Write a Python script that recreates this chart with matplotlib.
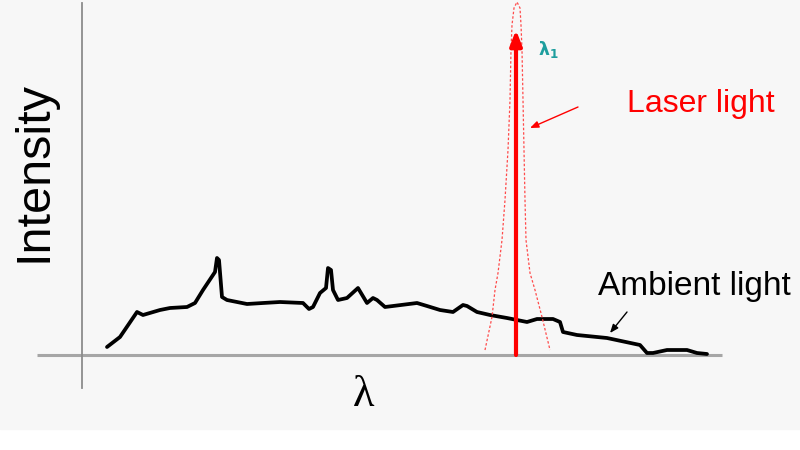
import matplotlib
matplotlib.use("Agg")
import matplotlib.pyplot as plt

# ---- data (x in wavelength units, intensity in arbitrary units) ----
ambient_x = [107, 120, 137, 143, 160, 170, 187, 195, 203, 213, 215, 217, 219, 222, 227,
             247, 263, 280, 303, 309, 313, 320, 326, 328, 331, 333, 338, 347, 358, 367,
             373, 377, 385, 417, 427, 440, 453, 463, 467, 477, 490, 507, 517, 527, 537,
             553, 560, 563, 577, 607, 640, 647, 653, 667, 687, 697, 707]
ambient_y = [8, 18, 43, 40, 45, 47, 48, 52, 65, 80, 83, 97, 95, 58, 55,
             51, 52, 53, 52, 46, 48, 62, 67, 87, 85, 65, 55, 57, 67, 52,
             57, 55, 48, 52, 49, 45, 43, 50, 49, 43, 40, 37, 35, 33, 36,
             36, 33, 23, 20, 17, 10, 2, 2, 5, 5, 2, 1]

laser_env_x = [485, 492, 495, 498, 502, 505, 508, 510, 511, 512, 514, 517,
               520, 521, 522, 523, 524, 525, 526, 530, 535, 542, 550]
laser_env_y = [5, 38, 65, 82, 115, 155, 205, 255, 305, 330, 347, 353,
               347, 330, 305, 255, 205, 155, 115, 82, 65, 38, 5]

laser_x = 516
laser_peak = 325

x_axis_range = [37, 722]
y_axis_range = [-33, 352]
y_axis_x = 82

fig = plt.figure(figsize=(8, 4.5), dpi=100, facecolor="white")
ax = fig.add_axes([0, 0, 1, 1])
ax.set_xlim(0, 800)
ax.set_ylim(-95, 355)
ax.axis("off")

# light grey panel background
ax.axhspan(-74, 355, color="#f7f7f7", zorder=0)

# axes lines
ax.plot(x_axis_range, [0, 0], color="#a6a6a6", lw=2.2, zorder=1, solid_capstyle="butt")
ax.plot([y_axis_x, y_axis_x], y_axis_range, color="#8c8c8c", lw=1.3, zorder=1)

# ambient light spectrum
ax.plot(ambient_x, ambient_y, color="black", lw=2.7, zorder=3,
        solid_joinstyle="round", solid_capstyle="round")

# laser envelope (dashed)
ax.plot(laser_env_x, laser_env_y, color="#ff4a4a", lw=0.9, ls=(0, (2, 1.6)), zorder=4)

# laser line with arrowhead
ax.annotate("", xy=(laser_x, laser_peak), xytext=(laser_x, 0),
            arrowprops=dict(arrowstyle="-|>,head_length=0.9,head_width=0.35",
                            color="red", lw=3, shrinkA=0, shrinkB=0), zorder=5)

# labels
sans = ["Liberation Sans", "DejaVu Sans"]
ax.text(34, 355 - 172, "Intensity", rotation=90, fontsize=35, family=sans,
        ha="center", va="center", color="black")
ax.text(364, 355 - 395, "λ", fontsize=32, family=["Liberation Serif", "DejaVu Serif"],
        ha="center", va="center", color="black")
ax.text(538, 355 - 55, r"$\mathregular{\lambda_1}$", fontsize=12.5, family=["DejaVu Sans"],
        fontweight="bold", ha="left", va="baseline", color="#1e9e9e")
ax.text(627, 355 - 112, "Laser light", fontsize=23, family=sans,
        ha="left", va="baseline", color="red")
ax.text(598, 355 - 295, "Ambient light", fontsize=24, family=sans,
        ha="left", va="baseline", color="black")

# pointer arrows
ax.annotate("", xy=(530, 355 - 128), xytext=(578, 355 - 107),
            arrowprops=dict(arrowstyle="-|>,head_length=0.5,head_width=0.2",
                            color="red", lw=1.0, shrinkA=0, shrinkB=0))
ax.annotate("", xy=(610, 355 - 333), xytext=(627, 355 - 312),
            arrowprops=dict(arrowstyle="-|>,head_length=0.5,head_width=0.2",
                            color="black", lw=1.0, shrinkA=0, shrinkB=0))

fig.savefig("out.png", dpi=100, facecolor="white")
